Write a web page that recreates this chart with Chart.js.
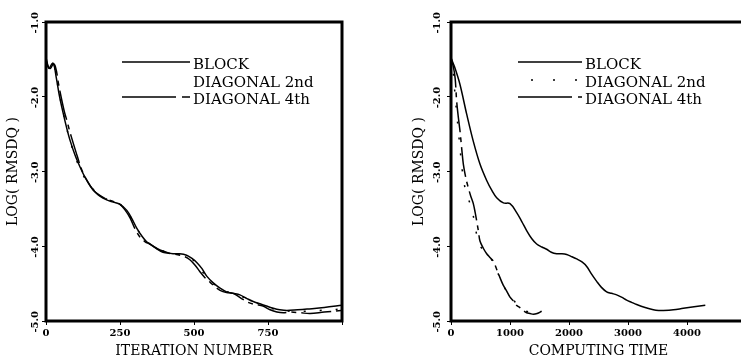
<!DOCTYPE html>
<html>
<head>
<meta charset="utf-8">
<script src="https://cdn.jsdelivr.net/npm/chart.js@4.4.1/dist/chart.umd.min.js"></script>
<style>
  body { margin: 0; width: 741px; height: 360px; overflow: hidden; background: #fff; position: relative; }
  #c1 { position: absolute; left: 0; top: 0; }
  #c2 { position: absolute; left: 370px; top: 0; }
</style>
</head>
<body>
<canvas id="c1" width="370" height="360"></canvas>
<canvas id="c2" width="380" height="360"></canvas>
<script>
// ---- left panel: vs iteration number ----
var iterBlockX = [0, 8, 15, 25, 35, 45, 58, 70, 81, 98, 115, 132, 149, 165, 182, 205, 227, 250, 273, 290, 307, 325, 340, 362, 385, 407, 429, 452, 475, 492, 510, 527, 543, 565, 588, 610, 632, 655, 679, 700, 723, 745, 768, 790, 814, 850, 882, 940, 1000];
var iterBlockY = [-1.48, -1.6, -1.62, -1.56, -1.75, -1.98, -2.22, -2.42, -2.58, -2.78, -2.94, -3.08, -3.19, -3.27, -3.33, -3.38, -3.41, -3.44, -3.52, -3.63, -3.76, -3.87, -3.94, -4.0, -4.05, -4.08, -4.1, -4.1, -4.12, -4.16, -4.22, -4.3, -4.4, -4.49, -4.56, -4.61, -4.63, -4.65, -4.7, -4.74, -4.77, -4.8, -4.83, -4.85, -4.86, -4.85, -4.84, -4.82, -4.79];

var iterDiag2X = [0, 10, 20, 30, 40, 50, 62, 75, 90, 108, 127, 147, 170, 195, 222, 250, 275, 300, 322, 345, 370, 400, 430, 460, 490, 515, 540, 565, 590, 620, 650, 680, 710, 740, 770, 800, 830, 870, 920, 960, 1000];
var iterDiag2Y = [-1.49, -1.6, -1.58, -1.62, -1.85, -2.06, -2.28, -2.5, -2.7, -2.9, -3.06, -3.18, -3.28, -3.35, -3.4, -3.44, -3.54, -3.72, -3.85, -3.95, -4.02, -4.07, -4.1, -4.11, -4.16, -4.27, -4.4, -4.5, -4.57, -4.62, -4.65, -4.71, -4.76, -4.79, -4.84, -4.86, -4.87, -4.87, -4.86, -4.85, -4.84];

var iterDiag4X = [0, 10, 22, 32, 42, 53, 62, 70, 80, 92, 106, 121, 140, 160, 182, 205, 227, 250, 268, 284, 300, 318, 335, 351, 373, 395, 425, 453, 470, 486, 503, 520, 537, 554, 571, 588, 610, 632, 657, 682, 708, 733, 757, 780, 802, 824, 860, 892, 940, 1000];
var iterDiag4Y = [-1.5, -1.62, -1.55, -1.6, -1.82, -2.04, -2.2, -2.31, -2.46, -2.62, -2.8, -2.98, -3.13, -3.25, -3.32, -3.37, -3.4, -3.44, -3.52, -3.62, -3.76, -3.88, -3.94, -3.97, -4.03, -4.08, -4.1, -4.12, -4.14, -4.18, -4.25, -4.34, -4.42, -4.48, -4.54, -4.59, -4.62, -4.63, -4.69, -4.75, -4.78, -4.8, -4.85, -4.88, -4.89, -4.88, -4.89, -4.9, -4.88, -4.86];

// ---- right panel: vs computing time ----
var timeBlockX = [0, 60, 150, 265, 376, 491, 605, 690, 774, 888, 1000, 1113, 1200, 1282, 1370, 1452, 1540, 1621, 1700, 1791, 1880, 1960, 2050, 2130, 2220, 2300, 2380, 2469, 2550, 2638, 2720, 2808, 2890, 2977, 3060, 3147, 3290, 3430, 3520, 3600, 3770, 3938, 4120, 4310];
var timeBlockY = [-1.48, -1.6, -1.83, -2.23, -2.59, -2.9, -3.12, -3.25, -3.35, -3.42, -3.43, -3.55, -3.67, -3.79, -3.9, -3.97, -4.01, -4.04, -4.08, -4.1, -4.1, -4.11, -4.14, -4.17, -4.21, -4.27, -4.37, -4.47, -4.55, -4.61, -4.63, -4.65, -4.68, -4.72, -4.75, -4.78, -4.82, -4.85, -4.86, -4.86, -4.85, -4.83, -4.81, -4.79];

var timeDiag2X = [0, 35, 68, 100, 130, 160, 190, 225, 265, 310, 350, 390, 420, 450, 500, 560, 620, 680, 740, 800, 860, 920, 980, 1040, 1100, 1160, 1220, 1280, 1340, 1400, 1450];
var timeDiag2Y = [-1.48, -1.65, -1.97, -2.25, -2.5, -2.75, -2.98, -3.17, -3.3, -3.4, -3.5, -3.64, -3.78, -3.9, -4.0, -4.07, -4.12, -4.17, -4.26, -4.37, -4.48, -4.57, -4.65, -4.7, -4.76, -4.8, -4.84, -4.87, -4.88, -4.9, -4.89];

var timeDiag4X = [0, 40, 70, 96, 125, 153, 180, 209, 250, 294, 335, 378, 410, 435, 465, 491, 550, 605, 660, 717, 775, 830, 885, 944, 1000, 1057, 1110, 1169, 1225, 1282, 1340, 1395, 1460, 1537];
var timeDiag4Y = [-1.48, -1.6, -1.75, -2.06, -2.28, -2.46, -2.68, -2.9, -3.08, -3.22, -3.33, -3.43, -3.55, -3.66, -3.8, -3.93, -4.03, -4.1, -4.15, -4.2, -4.31, -4.42, -4.52, -4.6, -4.68, -4.73, -4.79, -4.82, -4.86, -4.89, -4.9, -4.91, -4.9, -4.87];

var seriesNames = ['BLOCK', 'DIAGONAL 2nd', 'DIAGONAL 4th'];
var yTicks = [-5, -4, -3, -2, -1];

var FONT = 'DejaVu Serif';
var dashes = [[], [2, 14], [30, 5, 5, 5]];

function pts(xs, ys) {
  return xs.map(function (x, i) { return { x: x, y: ys[i] }; });
}

function ds(label, xs, ys, k) {
  return {
    label: label,
    data: pts(xs, ys),
    borderColor: '#000',
    borderWidth: 1.5,
    borderDash: dashes[k],
    pointRadius: 0,
    tension: 0.35,
    fill: false
  };
}

// thick box round the plot area + legend inside it
var framePlugin = {
  id: 'frame',
  afterDatasetsDraw: function (chart, args, opts) {
    var ctx = chart.ctx, a = chart.chartArea;
    ctx.save();
    ctx.strokeStyle = '#000';
    ctx.lineWidth = 3;
    ctx.strokeRect(a.left, a.top, a.right - a.left, a.bottom - a.top);

    ctx.font = '15px "' + FONT + '"';
    ctx.fillStyle = '#000';
    ctx.textBaseline = 'middle';
    ctx.lineWidth = 1.5;
    for (var i = 0; i < seriesNames.length; i++) {
      var y = opts.rows[i];
      var d = opts.dash[i];
      if (d) {
        ctx.setLineDash(d);
        ctx.lineDashOffset = opts.dashOffset[i];
        ctx.beginPath();
        ctx.moveTo(opts.x0, y - 3);
        ctx.lineTo(opts.x1, y - 3);
        ctx.stroke();
        ctx.setLineDash([]);
        ctx.lineDashOffset = 0;
      }
      ctx.fillText(seriesNames[i], opts.tx, y);
    }
    ctx.restore();
  }
};

function makeChart(id, sets, xMax, xStep, xTitle, o) {
  return new Chart(document.getElementById(id).getContext('2d'), {
    type: 'line',
    data: { datasets: sets },
    options: {
      responsive: false,
      animation: false,
      layout: { padding: { left: 0, top: 22, right: o.padRight, bottom: 0 } },
      plugins: {
        legend: { display: false },
        tooltip: { enabled: false },
        frame: { x0: o.lx0, x1: o.lx1, tx: o.tx, rows: [65, 83, 100], dash: o.legendDash, dashOffset: o.legendOffset }
      },
      scales: {
        x: {
          type: 'linear',
          min: 0, max: xMax,
          afterBuildTicks: function (s) {
            s.ticks = [];
            for (var v = 0; v <= xMax; v += xStep) s.ticks.push({ value: v });
          },
          afterFit: function (s) { s.height = 39; },
          grid: { drawOnChartArea: false, drawTicks: true, tickLength: 4, color: '#000' },
          border: { display: false },
          ticks: {
            color: '#000', padding: 2, maxRotation: 0,
            font: { family: FONT, size: 10, weight: 'bold' },
            callback: function (v) { return v < xMax ? String(v) : ''; }
          },
          title: {
            display: true, text: xTitle, color: '#000',
            font: { family: FONT, size: 14 },
            padding: { top: 0, bottom: 0 }
          }
        },
        y: {
          min: -5, max: -1,
          afterBuildTicks: function (s) {
            s.ticks = yTicks.map(function (v) { return { value: v }; });
          },
          afterFit: function (s) { s.width = o.yWidth; },
          grid: { drawOnChartArea: false, drawTicks: true, tickLength: 4, color: '#000' },
          border: { display: false },
          ticks: {
            color: '#000', padding: o.tickPad, minRotation: 90, maxRotation: 90,
            labelOffset: -10,
            font: { family: FONT, size: 10, weight: 'bold' },
            callback: function (v) { return v.toFixed(1); }
          },
          title: {
            display: true, text: 'LOG( RMSDQ )', color: '#000',
            font: { family: FONT, size: 14 },
            padding: { top: o.titlePad, bottom: 0 }
          }
        }
      }
    },
    plugins: [framePlugin]
  });
}

makeChart('c1', [
  ds(seriesNames[0], iterBlockX, iterBlockY, 0),
  ds(seriesNames[1], iterDiag2X, iterDiag2Y, 1),
  ds(seriesNames[2], iterDiag4X, iterDiag4Y, 2)
], 1000, 250, 'ITERATION NUMBER',
  { padRight: 28, yWidth: 46, tickPad: 7, titlePad: 5, lx0: 122, lx1: 190, tx: 193,
    legendDash: [[], null, [54, 6, 8, 60]], legendOffset: [0, 0, 0] });

makeChart('c2', [
  ds(seriesNames[0], timeBlockX, timeBlockY, 0),
  ds(seriesNames[1], timeDiag2X, timeDiag2Y, 1),
  ds(seriesNames[2], timeDiag4X, timeDiag4Y, 2)
], 5000, 1000, 'COMPUTING TIME',
  { padRight: 4, yWidth: 81, tickPad: 10, titlePad: 41, lx0: 148, lx1: 212, tx: 215,
    legendDash: [[], [2, 20], [54, 6, 4, 60]], legendOffset: [0, -13, 0] });
</script>
</body>
</html>
